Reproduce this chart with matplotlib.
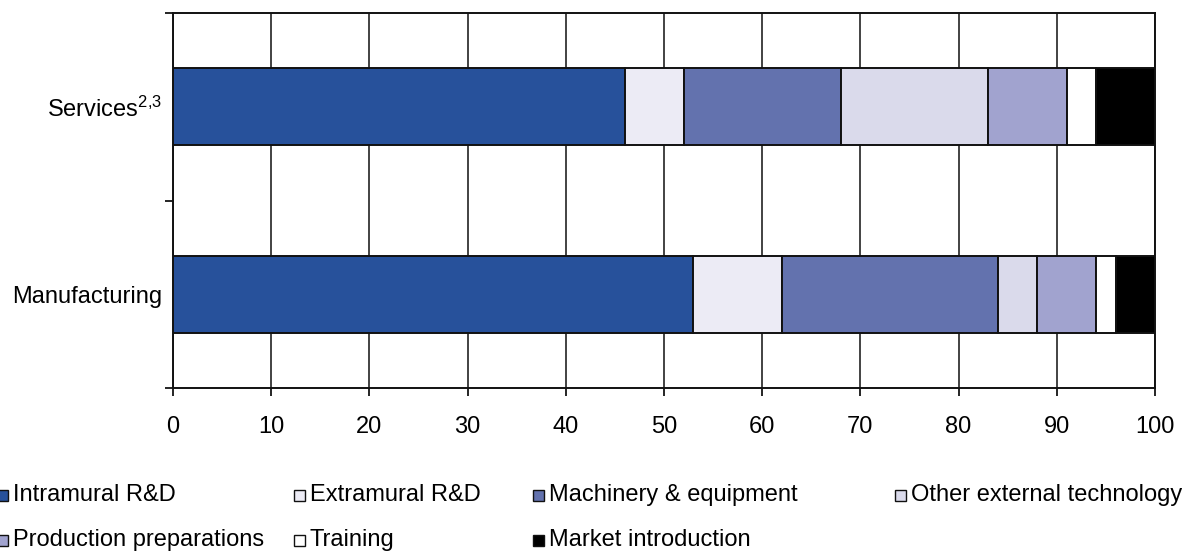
import matplotlib
matplotlib.use("Agg")
import matplotlib.pyplot as plt
from matplotlib.patches import Rectangle

plt.rcParams['font.family'] = ['Liberation Sans', 'DejaVu Sans']
plt.rcParams['mathtext.fontset'] = 'custom'
plt.rcParams['mathtext.rm'] = 'Liberation Sans'
plt.rcParams['mathtext.it'] = 'Liberation Sans'

categories = ["Manufacturing", "Services$^{2{,}3}$"]
series = ["Intramural R&D", "Extramural R&D", "Machinery & equipment",
          "Other external technology", "Production preparations",
          "Training", "Market introduction"]
values = {
    "Intramural R&D":            [53, 46],
    "Extramural R&D":            [9, 6],
    "Machinery & equipment":     [22, 16],
    "Other external technology": [4, 15],
    "Production preparations":   [6, 8],
    "Training":                  [2, 3],
    "Market introduction":       [4, 6],
}
colors = ["#27519B", "#ECEBF5", "#6372AE", "#DADAEB", "#A1A3CF", "#FFFFFF", "#000000"]
xticks = [0, 10, 20, 30, 40, 50, 60, 70, 80, 90, 100]

FS = 17
fig = plt.figure(figsize=(11.82, 5.59), dpi=100)
ax = fig.add_axes([173 / 1182, 1 - 388 / 559, (1155 - 173) / 1182, (388 - 13) / 559])

ypos = [0.5, 1.5]
left = [0.0, 0.0]
for name, col in zip(series, colors):
    vals = values[name]
    ax.barh(ypos, vals, left=left, height=0.41, color=col,
            edgecolor="#111111", linewidth=1.4, zorder=3)
    left = [l + v for l, v in zip(left, vals)]

ax.set_xlim(0, 100)
ax.set_ylim(0, 2)
ax.set_xticks(xticks)
ax.set_xticklabels([str(t) for t in xticks], fontsize=FS)
ax.xaxis.grid(True, color="#222222", linewidth=1.2, zorder=0)
ax.set_yticks([0, 1, 2])
ax.set_yticklabels([])
ax.set_yticks(ypos, minor=True)
ax.set_yticklabels(categories, minor=True, fontsize=FS)
ax.tick_params(axis="y", which="minor", length=0, pad=8)
ax.tick_params(axis="y", which="major", length=6, width=1.2, direction="out")
ax.tick_params(axis="x", length=6, width=1.2, direction="out", pad=14)
for sp in ax.spines.values():
    sp.set_linewidth(1.4)
    sp.set_color("#111111")

# Legend laid out in two rows of four columns beneath the plot
legend_pos = [(-3, 495), (294, 495), (533, 495), (895, 495),
              (-3, 540), (294, 540), (533, 540)]
W, H = 1182, 559
for (px, py), name, col in zip(legend_pos, series, colors):
    s = 11
    fig.patches.append(Rectangle((px / W, 1 - (py + s / 2) / H), s / W, s / H,
                                 transform=fig.transFigure, facecolor=col,
                                 edgecolor="#111111", linewidth=1.0))
    fig.text((px + s + 5) / W, 1 - py / H, name, fontsize=FS, va="center", ha="left")

fig.savefig("out.png", dpi=100)
